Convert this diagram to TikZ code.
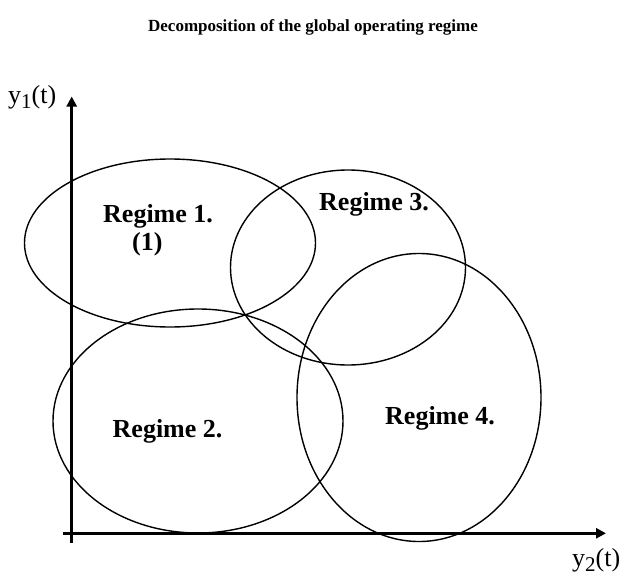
\documentclass[tikz,border=0pt]{standalone}
\usepackage{fontspec}
\setmainfont{Liberation Serif}
\usetikzlibrary{arrows.meta}

\begin{document}
\begin{tikzpicture}[x=1pt,y=-1pt,
  axis/.style={line width=3pt,-{Triangle[length=10pt,width=10pt]}},
  region/.style={line width=1.4pt},
  regimelabel/.style={font=\bfseries\fontsize{26}{30}\selectfont,anchor=base west,inner sep=0pt},
  axislabel/.style={font=\fontsize{26}{30}\selectfont,anchor=base west,inner sep=0pt},
  heading/.style={font=\bfseries\fontsize{17}{20}\selectfont,anchor=base,inner sep=0pt}]
  \useasboundingbox (0,0) rectangle (625,576);

  % title
  \node[heading] (title) at (313,31) {Decomposition of the global operating regime};

  % operating regions
  \coordinate (c1) at (170,243);
  \coordinate (c2) at (198,421);
  \coordinate (c3) at (348,267.5);
  \coordinate (c4) at (419,397.5);
  \draw[region] (c1) ellipse [x radius=145.5pt, y radius=84pt];
  \draw[region] (c2) ellipse [x radius=145pt, y radius=112pt];
  \draw[region] (c3) ellipse [x radius=117.5pt, y radius=97.5pt];
  \draw[region] (c4) ellipse [x radius=122pt, y radius=144pt];

  % axes
  \coordinate (ybot) at (71.7,543);
  \coordinate (ytop) at (71.7,96.5);
  \coordinate (xleft) at (62.7,533.3);
  \coordinate (xright) at (606,533.3);
  \draw[axis] (ybot) -- (ytop);
  \draw[axis] (xleft) -- (xright);

  \node[axislabel] (ylab) at (8,103) {y\raisebox{-5pt}{\fontsize{21}{21}\selectfont 1}(t)};
  \node[axislabel] (xlab) at (572,566) {y\raisebox{-5pt}{\fontsize{21}{21}\selectfont 2}(t)};

  % region labels
  \node[regimelabel] (r1) at (103,222) {Regime 1.};
  \node[regimelabel] (r1n) at (132,250) {(1)};
  \node[regimelabel] (r2) at (112.5,437) {Regime 2.};
  \node[regimelabel] (r3) at (319,210) {Regime 3.};
  \node[regimelabel] (r4) at (385,424) {Regime 4.};
\end{tikzpicture}
\end{document}
